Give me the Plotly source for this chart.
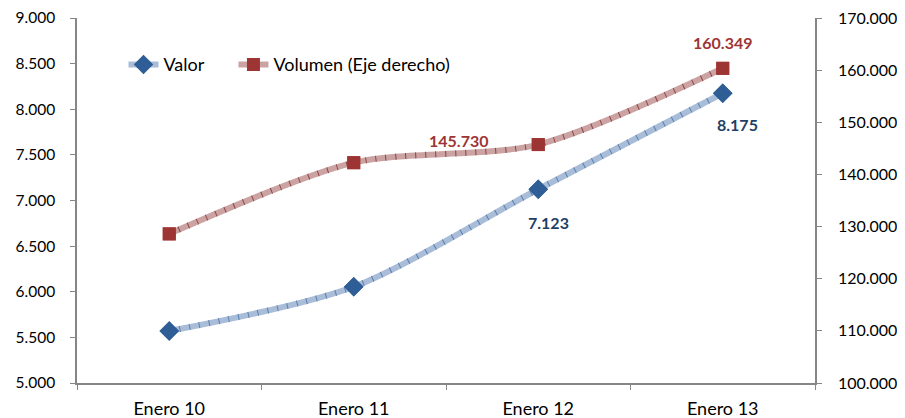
import plotly.graph_objects as go

categories = ["Enero 10", "Enero 11", "Enero 12", "Enero 13"]
valor = [5570, 6055, 7123, 8175]
volumen = [128600, 142250, 145730, 160349]
left_ticks = [5000, 5500, 6000, 6500, 7000, 7500, 8000, 8500, 9000]
left_tick_text = ["5.000", "5.500", "6.000", "6.500", "7.000", "7.500", "8.000", "8.500", "9.000"]
right_ticks = [100000, 110000, 120000, 130000, 140000, 150000, 160000, 170000]
right_tick_text = ["100.000", "110.000", "120.000", "130.000", "140.000", "150.000", "160.000", "170.000"]

FONT = "Lato"
AX = "#868686"
SM = 0.8

fig = go.Figure()

# Valor (left axis)
fig.add_trace(go.Scatter(x=categories, y=valor, mode="lines+markers", name="Valor", legend="legend",
                         line=dict(color="#a9bdd8", width=6, shape="spline", smoothing=SM),
                         marker=dict(symbol="diamond", size=15, color="#2f5e97")))
fig.add_trace(go.Scatter(x=categories, y=valor, mode="lines", line=dict(color="#5a7fae", width=6, dash="1px,9px", shape="spline", smoothing=SM),
                         showlegend=False, hoverinfo="skip"))
fig.add_trace(go.Scatter(x=categories, y=valor, mode="markers", showlegend=False,
                         marker=dict(symbol="diamond", size=15, color="#2f5e97")))

# Volumen (right axis)
fig.add_trace(go.Scatter(x=categories, y=volumen, mode="lines+markers", yaxis="y2", name="Volumen (Eje derecho)", legend="legend2",
                         line=dict(color="#cba3a3", width=6, shape="spline", smoothing=SM),
                         marker=dict(symbol="square", size=13, color="#9e3535")))
fig.add_trace(go.Scatter(x=categories, y=volumen, mode="lines", yaxis="y2", line=dict(color="#8e4444", width=6, dash="1px,9px", shape="spline", smoothing=SM),
                         showlegend=False, hoverinfo="skip"))
fig.add_trace(go.Scatter(x=categories, y=volumen, mode="markers", yaxis="y2", showlegend=False,
                         marker=dict(symbol="square", size=13, color="#9e3535")))

blue_lbl = "#1f3f66"
red_lbl = "#9e3535"
annotations = [
    dict(x=categories[2], y=valor[2], yref="y", text="7.123", xshift=10, yshift=-33),
    dict(x=categories[3], y=valor[3], yref="y", text="8.175", xshift=15, yshift=-31),
    dict(x=categories[2], y=volumen[2], yref="y2", text="145.730", xshift=-80, yshift=4),
    dict(x=categories[3], y=volumen[3], yref="y2", text="160.349", xshift=0, yshift=26),
]
for a, c in zip(annotations, [blue_lbl, blue_lbl, red_lbl, red_lbl]):
    a.update(xref="x", showarrow=False, font=dict(family=FONT, size=16, color=c, weight="bold"))

leg = dict(orientation="h", yanchor="middle", xanchor="left", bgcolor="rgba(0,0,0,0)", font=dict(size=18))

# page body has an 8px default margin; figure size/margins compensate for it
fig.update_layout(
    width=897, height=410,
    margin=dict(l=69, r=90, t=10, b=35, autoexpand=False),
    plot_bgcolor="white", paper_bgcolor="white",
    font=dict(family=FONT, size=16, color="#000000"),
    xaxis=dict(range=[-0.5, 3.5], showgrid=False, showline=True, linecolor=AX, linewidth=1.5, ticks="outside",
               tickson="boundaries", ticklen=5, tickcolor=AX, tickfont=dict(size=18), ticklabelstandoff=9,
               ticklabeloverflow="allow", automargin=False),
    yaxis=dict(range=[5000, 9000], tickvals=left_ticks, ticktext=left_tick_text, showgrid=False, zeroline=False,
               showline=True, linecolor=AX, linewidth=1.5, ticks="outside", ticklen=5, tickcolor=AX,
               tickfont=dict(size=15.5), ticklabelstandoff=12, ticklabeloverflow="allow", automargin=False),
    yaxis2=dict(range=[100000, 170000], tickvals=right_ticks, ticktext=right_tick_text, overlaying="y", side="right",
                showgrid=False, zeroline=False, showline=True, linecolor=AX, linewidth=1.5, ticks="outside", ticklen=5,
                tickcolor=AX, tickfont=dict(size=16), ticklabelstandoff=13, ticklabeloverflow="allow", automargin=False),
    legend=dict(leg, x=0.063, y=0.872),
    legend2=dict(leg, x=0.212, y=0.872),
    annotations=annotations,
)

fig.write_html("out.html")
